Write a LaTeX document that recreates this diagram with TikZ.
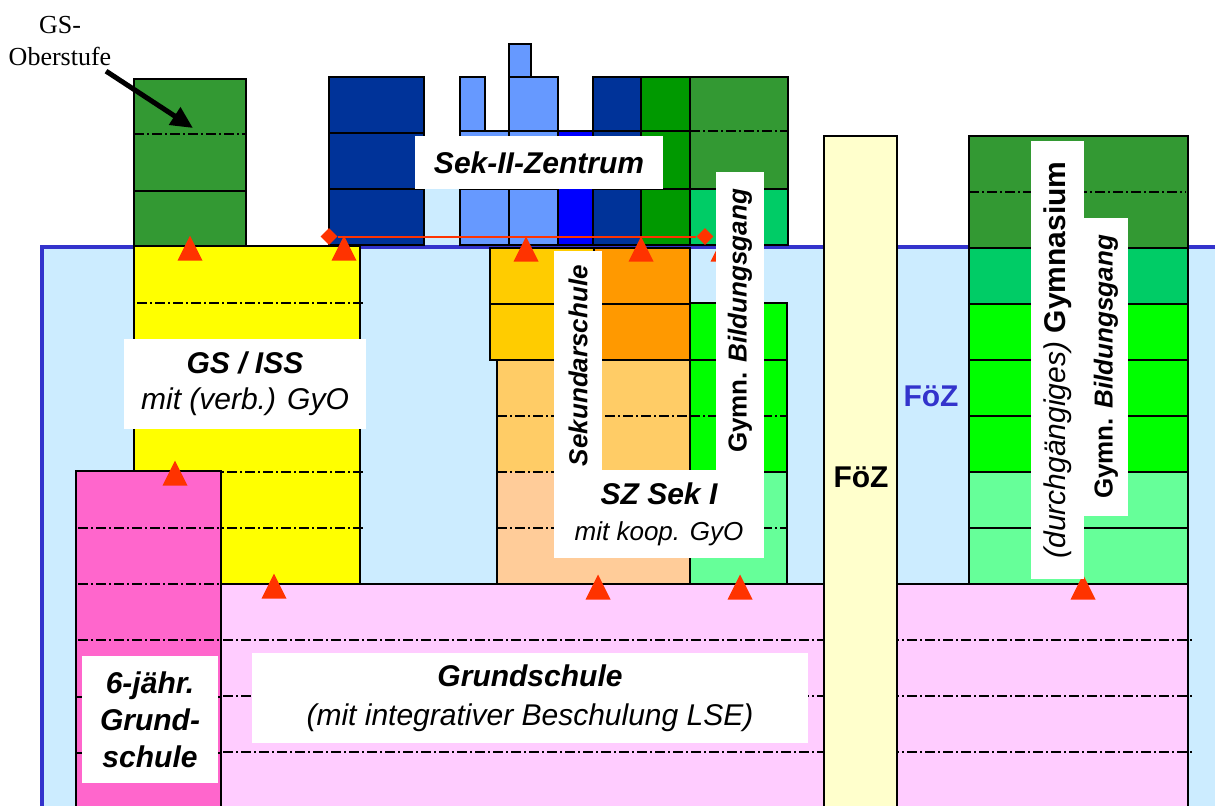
\documentclass[tikz,border=0pt]{standalone}
\usepackage{fontspec}
\setmainfont{Liberation Sans}
\newfontfamily\serifgs{Liberation Serif}
\usetikzlibrary{arrows.meta,shapes.geometric}
\definecolor{bgblue}{HTML}{CCECFF}
\definecolor{rimblue}{HTML}{3333CC}
\definecolor{gsgreen}{HTML}{339933}
\definecolor{gsyellow}{HTML}{FFFF00}
\definecolor{gspink}{HTML}{FF66CC}
\definecolor{gspale}{HTML}{FFCCFF}
\definecolor{navy}{HTML}{003399}
\definecolor{skyblue}{HTML}{6699FF}
\definecolor{pureblue}{HTML}{0000FF}
\definecolor{grass}{HTML}{009900}
\definecolor{mint}{HTML}{00CC66}
\definecolor{gymlime}{HTML}{00FF00}
\definecolor{palegreen}{HTML}{66FF99}
\definecolor{amber}{HTML}{FFCC00}
\definecolor{orangeb}{HTML}{FF9900}
\definecolor{apricot}{HTML}{FFCC66}
\definecolor{peach}{HTML}{FFCC99}
\definecolor{cream}{HTML}{FFFFCC}
\definecolor{signal}{HTML}{FF3300}
\begin{document}
\begin{tikzpicture}[x=0.5pt,y=-0.5pt,
  blk/.style={draw=black,line width=0.8pt},
  sl/.style={line width=0.8pt},
  dd/.style={line width=0.7pt,dash pattern=on 5pt off 1.5pt on 1pt off 1.5pt},
  box/.style={fill=white,inner sep=1pt,align=center,font=\fontsize{15}{18}\selectfont},
  small/.style={font=\fontsize{13}{16}\selectfont}]
\useasboundingbox (0,0) rectangle (1215,805);
% background
\fill[bgblue] (41.5,247) rectangle (1225,815);
\draw[rimblue,line width=2pt] (1225,247) -- (41.5,247) -- (41.5,815);
% GS-Oberstufe
\filldraw[blk,fill=gsgreen] (134,79) rectangle (246,246);
\draw[dd] (134,134) -- (246,134);
\draw[sl] (134,191) -- (246,191);
% Sek-II-Zentrum
\fill[bgblue] (424,185) rectangle (460,245);
\filldraw[blk,fill=navy] (329,77) rectangle (424,245);
\draw[sl] (329,133) -- (424,133) (329,189) -- (424,189);
\filldraw[blk,fill=skyblue] (509,44) rectangle (531,77);
\filldraw[blk,fill=skyblue] (460,77) rectangle (485,131);
\filldraw[blk,fill=skyblue] (509,77) rectangle (558,131);
\filldraw[blk,fill=skyblue] (460,131) rectangle (509,245);
\filldraw[blk,fill=skyblue] (509,131) rectangle (558,245);
\draw[sl] (460,189) -- (558,189);
\filldraw[blk,fill=pureblue] (558,131) rectangle (593,245);
\filldraw[blk,fill=navy] (593,77) rectangle (641,245);
\filldraw[blk,fill=grass] (641,77) rectangle (690,245);
\draw[sl] (593,131) -- (690,131) (593,189) -- (690,189);
\filldraw[blk,fill=gsgreen] (690,77) rectangle (788,189);
\filldraw[blk,fill=mint] (690,189) rectangle (788,245);
\draw[dd] (690,131) -- (788,131);
% GS / ISS
\filldraw[blk,fill=gsyellow] (134,246) rectangle (360,584);
\foreach \y in {303,359,415,472,528} \draw[dd] (137,\y) -- (363,\y);
% SZ Sek I
\filldraw[blk,fill=amber] (490,248) rectangle (594,360);
\filldraw[blk,fill=orangeb] (594,248) rectangle (690,360);
\draw[sl] (490,304) -- (690,304);
\fill[apricot] (497,360) rectangle (690,472);
\fill[peach] (497,472) rectangle (690,584);
\draw[blk] (497,360) rectangle (690,584);
\foreach \y in {416,472,528} \draw[dd] (497,\y) -- (690,\y);
\filldraw[blk,fill=gymlime] (690,303) rectangle (787,472);
\draw[sl] (690,360) -- (787,360);
\draw[dd] (690,416) -- (787,416);
\filldraw[blk,fill=palegreen] (690,472) rectangle (787,584);
\draw[dd] (690,528) -- (787,528);
% Grundschule
\filldraw[blk,fill=gspale] (221,584) rectangle (1188,815);
\foreach \y in {640,696,752} \draw[dd] (223,\y) -- (1192,\y);
\filldraw[blk,fill=gspink] (76,471) rectangle (221,815);
\foreach \y in {528,584,640} \draw[dd] (78,\y) -- (221,\y);
\draw[sl] (76,697) -- (221,697) (76,753) -- (221,753);
% FoeZ
\filldraw[blk,fill=cream] (824,136) rectangle (897,815);
% Gymnasium
\filldraw[blk,fill=gsgreen] (969,136) rectangle (1188,248);
\draw[dd] (969,192) -- (1186,192);
\filldraw[blk,fill=mint] (969,248) rectangle (1188,304);
\filldraw[blk,fill=gymlime] (969,304) rectangle (1188,472);
\draw[sl] (969,360) -- (1188,360) (969,416) -- (1188,416);
\filldraw[blk,fill=palegreen] (969,472) rectangle (1188,584);
\draw[sl] (969,528) -- (1188,528);
% Uebergaenge
\foreach \x/\y in {190/248,344/248,526/249,641/249,723/249,175/473,274/586,598/587,740/587,1083/587}
  \fill[signal] (\x-12.5,\y+12.5) -- (\x+12.5,\y+12.5) -- (\x,\y-12.5) -- cycle;
\node[diamond,fill=signal,inner sep=0pt,minimum size=8.5pt] (dml) at (329,236.5) {};
\node[diamond,fill=signal,inner sep=0pt,minimum size=8.5pt] (dmr) at (705,236.5) {};
\draw[signal,line width=1pt] (dml) -- (dmr);
% labels
\node[box,minimum width=124pt,minimum height=26.5pt] (sek2) at (539,162.5) {\bfseries\itshape Sek-II-Zentrum};
\node[box,minimum width=121pt,minimum height=45pt] (gsiss) at (245,384) {{\bfseries\itshape GS / ISS}\\{\itshape mit (verb.) GyO}};
\node[box,small,rotate=90,minimum height=24pt,text width=105.5pt,align=left,inner xsep=2pt] (sekname) at (578,360.5) {\bfseries\itshape Sekundarschule};
\node[box,small,rotate=90,minimum width=149pt,minimum height=24pt] (szgymn) at (740,321) {\bfseries Gymn. \itshape Bildungsgang};
\node[box,minimum width=105pt,minimum height=44pt] (szsek) at (659,514) {{\bfseries\itshape SZ Sek I}\\{\fontsize{13}{16}\selectfont\itshape mit koop. GyO}};
\node[box,minimum width=68pt,minimum height=63.5pt,font=\fontsize{15}{18.5}\selectfont\bfseries\itshape] (gs6) at (150,719.5) {6-jähr.\\Grund-\\schule};
\node[box,minimum width=278pt,minimum height=45pt,font=\fontsize{15}{19.5}\selectfont] (gsall) at (530,698) {{\bfseries\itshape Grundschule}\\{\itshape (mit integrativer Beschulung LSE)}};
\node[font=\fontsize{15}{18}\selectfont\bfseries] (fozcol) at (861,477) {FöZ};
\node[font=\fontsize{15}{18}\selectfont\bfseries,text=rimblue] (fozblue) at (931,396) {FöZ};
\node[box,rotate=90,minimum width=219pt,minimum height=26.5pt] (gymname) at (1057.5,360) {{\itshape (durchgängiges)} {\bfseries Gymnasium}};
\node[box,small,rotate=90,minimum width=149pt,minimum height=22pt] (gymgang) at (1106,367) {\bfseries Gymn. \itshape Bildungsgang};
% GS-Oberstufe
\node[font=\serifgs\fontsize{13}{16}\selectfont,align=center,inner sep=2.5pt] (gsob) at (60,41) {GS-\\Oberstufe};
\coordinate (gsobtip) at (193,128);
\draw[line width=2.5pt,-{Triangle[length=11pt,width=10pt]}] (gsob) -- (gsobtip);
\end{tikzpicture}
\end{document}
